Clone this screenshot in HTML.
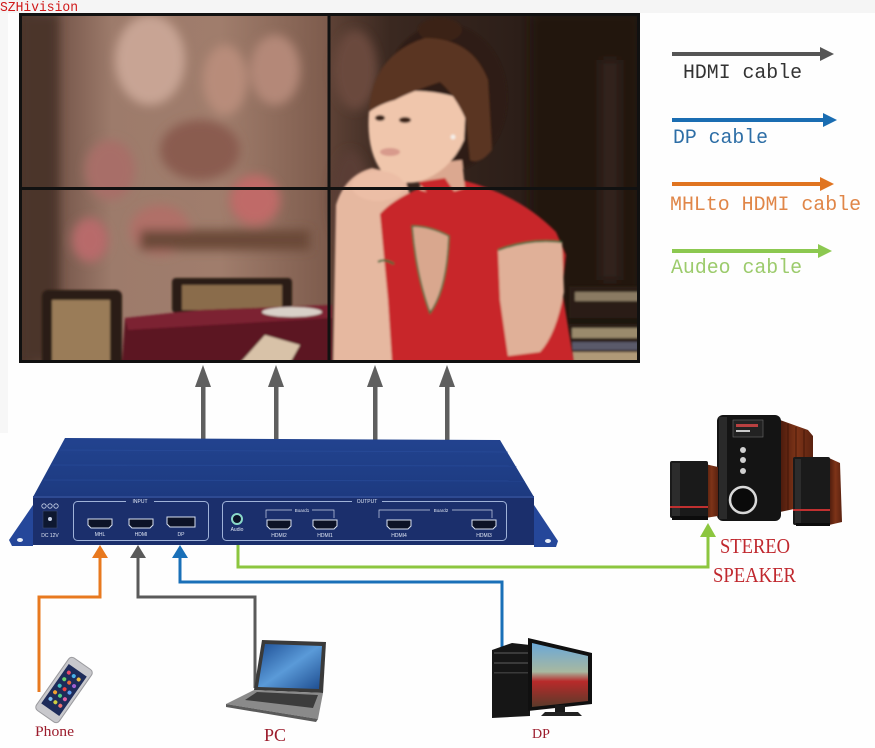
<!DOCTYPE html>
<html><head><meta charset="utf-8"><style>
html,body{margin:0;padding:0;background:#fff;}
svg{display:block}
</style></head><body>
<svg width="875" height="748" viewBox="0 0 875 748" xmlns="http://www.w3.org/2000/svg">
<defs>
 <filter id="b5" x="-20%" y="-20%" width="140%" height="140%"><feGaussianBlur stdDeviation="5"/></filter>
 <filter id="b3" x="-20%" y="-20%" width="140%" height="140%"><feGaussianBlur stdDeviation="3"/></filter>
 <filter id="b1"><feGaussianBlur stdDeviation="1"/></filter>
 <clipPath id="wall"><rect x="19" y="13" width="621" height="350"/></clipPath>
 <linearGradient id="leftbg" x1="0" x2="1" y1="0" y2="0">
  <stop offset="0" stop-color="#4a3129"/>
  <stop offset="0.08" stop-color="#6c4d42"/>
  <stop offset="0.3" stop-color="#9d7b6b"/>
  <stop offset="0.65" stop-color="#a07d6c"/>
  <stop offset="1" stop-color="#7d5b4c"/>
 </linearGradient>
 <linearGradient id="rightbg" x1="0" x2="1">
  <stop offset="0" stop-color="#5e4236"/>
  <stop offset="0.2" stop-color="#3a2820"/>
  <stop offset="1" stop-color="#1f1511"/>
 </linearGradient>
 <linearGradient id="topface" x1="0" x2="0" y1="0" y2="1">
  <stop offset="0" stop-color="#22438f"/>
  <stop offset="1" stop-color="#1d3a80"/>
 </linearGradient>
 <linearGradient id="wood" x1="0" x2="1">
  <stop offset="0" stop-color="#4a1a0c"/>
  <stop offset="0.5" stop-color="#7e3418"/>
  <stop offset="1" stop-color="#5a2210"/>
 </linearGradient>
 <linearGradient id="lscreen" x1="0" x2="1" y1="0" y2="1">
  <stop offset="0" stop-color="#1e4f95"/>
  <stop offset="0.5" stop-color="#5a9ad8"/>
  <stop offset="1" stop-color="#1d4c8f"/>
 </linearGradient>
 <linearGradient id="mscreen" x1="0" x2="0" y1="0" y2="1">
  <stop offset="0" stop-color="#6aa8d8"/>
  <stop offset="0.45" stop-color="#a8b8a0"/>
  <stop offset="0.6" stop-color="#b82a2a"/>
  <stop offset="1" stop-color="#5a3a2a"/>
 </linearGradient>
</defs>

<rect width="875" height="748" fill="#fefefe"/>
<rect x="0" y="0" width="875" height="13" fill="#f5f5f5"/>
<rect x="0" y="13" width="8" height="420" fill="#f7f7f7"/>
<text x="0" y="11" font-family="Liberation Mono, monospace" font-size="14" fill="#d01818" textLength="78" lengthAdjust="spacingAndGlyphs">SZHivision</text>

<!-- VIDEO WALL -->
<g clip-path="url(#wall)">
 <rect x="19" y="13" width="310" height="350" fill="url(#leftbg)"/>
 <rect x="329" y="13" width="311" height="350" fill="url(#rightbg)"/>
 <g filter="url(#b5)">
  <ellipse cx="150" cy="60" rx="35" ry="45" fill="#c8a494"/>
  <ellipse cx="225" cy="80" rx="22" ry="35" fill="#b88c7a"/>
  <ellipse cx="275" cy="70" rx="25" ry="35" fill="#b48878"/>
  <ellipse cx="200" cy="150" rx="40" ry="30" fill="#8a5c50"/>
  <ellipse cx="110" cy="170" rx="25" ry="30" fill="#a86e68"/>
  <ellipse cx="160" cy="230" rx="30" ry="25" fill="#b07068"/>
  <ellipse cx="255" cy="200" rx="25" ry="25" fill="#c06a68"/>
  <ellipse cx="90" cy="240" rx="18" ry="22" fill="#b86a6a"/>
  <rect x="19" y="13" width="40" height="350" fill="#4c342a"/>
  <rect x="140" y="230" width="170" height="20" fill="#6a4838"/>
  <ellipse cx="355" cy="70" rx="22" ry="40" fill="#6a4a3e"/>
  <ellipse cx="350" cy="200" rx="20" ry="50" fill="#5a3e34"/>
  <rect x="530" y="13" width="110" height="350" fill="#22170f"/>
  <rect x="600" y="60" width="20" height="220" fill="#32241c"/>
 </g>
 <!-- bottom-left chairs and table -->
 <g filter="url(#b1)">
  <rect x="42" y="290" width="80" height="80" rx="6" fill="#2a1a14"/>
  <rect x="52" y="300" width="58" height="65" fill="#9a7c58"/>
  <rect x="172" y="278" width="120" height="35" rx="4" fill="#2a1a14"/>
  <rect x="182" y="285" width="100" height="25" fill="#8a6c4c"/>
  <path d="M125 318 L200 310 L332 305 L332 363 L122 363 Z" fill="#5c1422"/>
  <path d="M125 318 L200 310 L332 305 L332 318 L128 330 Z" fill="#7c2232"/>
  <ellipse cx="292" cy="312" rx="30" ry="5" fill="#d8d0c8"/>
  <path d="M240 363 L265 335 L300 345 L290 363 Z" fill="#d8c2a8"/>
 </g>
 <!-- books bottom right -->
 <g filter="url(#b1)">
  <rect x="569" y="286" width="72" height="77" fill="#2a1e18"/>
  <rect x="575" y="292" width="66" height="9" fill="#8a7a62"/>
  <rect x="569" y="318" width="72" height="6" fill="#1a1410"/>
  <rect x="572" y="328" width="69" height="10" fill="#9a8a6c"/>
  <rect x="572" y="342" width="69" height="8" fill="#5a5a6a"/>
  <rect x="572" y="352" width="69" height="11" fill="#b09a78"/>
 </g>
 <!-- woman -->
 <g filter="url(#b1)">
  <ellipse cx="445" cy="98" rx="62" ry="74" fill="#2e1a12"/>
  <ellipse cx="440" cy="30" rx="22" ry="12" fill="#3a2418"/>
  <!-- arm under chin -->
  <path d="M336 205 Q345 175 372 168 L405 176 L410 196 L398 210 L396 363 L333 363 Z" fill="#e6b8a0"/>
  <!-- dress -->
  <path d="M380 214 Q392 200 420 188 L462 180 Q520 195 556 232 L566 255 L562 290 L574 363 L392 363 L388 300 Z" fill="#c8262c"/>
  <!-- right arm skin -->
  <path d="M498 250 Q530 238 562 242 L564 292 Q556 335 540 352 L508 356 L500 300 Z" fill="#e0b098"/>
  <path d="M498 250 Q530 238 562 242" fill="none" stroke="#2e6a3a" stroke-width="2"/>
  <path d="M378 262 Q384 258 394 264" fill="none" stroke="#2e6a3a" stroke-width="2"/>
  <!-- keyhole -->
  <path d="M412 226 Q416 275 430 313 Q447 290 449 236 Q430 226 412 226 Z" fill="#d9a78e" stroke="#2e6a3a" stroke-width="1.5"/>
  <!-- neck -->
  <path d="M420 165 L462 160 L465 188 L440 196 L420 190 Z" fill="#dba890"/>
  <path d="M418 182 L445 178 L460 200 L438 205 Z" fill="#c8262c"/>
  <!-- face -->
  <path d="M369 112 Q366 150 382 172 Q398 186 418 182 Q450 172 464 140 L466 100 Q430 88 400 92 Q375 96 369 112 Z" fill="#f0c6ac"/>
  <!-- bangs -->
  <path d="M369 112 Q372 55 425 38 Q472 38 488 80 L492 150 Q480 165 470 160 L466 120 Q455 95 440 82 Q410 92 395 100 Q380 104 369 112 Z" fill="#5a3422"/>
  <!-- hand -->
  <ellipse cx="378" cy="186" rx="26" ry="15" fill="#ecbea6"/>
  <circle cx="453" cy="137" r="2.5" fill="#f4eee8"/>
  <ellipse cx="390" cy="152" rx="10" ry="4" fill="#d89a8c"/>
  <ellipse cx="405" cy="120" rx="6" ry="3" fill="#3a2418"/>
  <ellipse cx="380" cy="118" rx="5" ry="3" fill="#3a2418"/>
 </g>
</g>
<rect x="20.5" y="14.5" width="618" height="347" fill="none" stroke="#111" stroke-width="3"/>
<line x1="329" y1="14" x2="329" y2="362" stroke="#111" stroke-width="3"/>
<line x1="20" y1="188.5" x2="639" y2="188.5" stroke="#111" stroke-width="3"/>

<!-- UP ARROWS -->
<g fill="#5f5f5f">
 <rect x="201" y="384" width="4.5" height="56"/><polygon points="195,387 203,365 211,387"/>
 <rect x="274" y="384" width="4.5" height="56"/><polygon points="268,387 276,365 284,387"/>
 <rect x="373" y="384" width="4.5" height="56"/><polygon points="367,387 375,365 383,387"/>
 <rect x="445" y="384" width="4.5" height="56"/><polygon points="439,387 447,365 455,387"/>
</g>

<!-- LEGEND -->
<g>
 <line x1="672" y1="54" x2="823" y2="54" stroke="#555" stroke-width="4"/>
 <polygon points="820,47 834,54 820,61" fill="#555"/>
 <text x="683" y="78" font-family="Liberation Mono, monospace" font-size="20" fill="#333" textLength="119" lengthAdjust="spacingAndGlyphs">HDMI cable</text>
 <line x1="672" y1="120" x2="826" y2="120" stroke="#1a6db2" stroke-width="4"/>
 <polygon points="823,113 837,120 823,127" fill="#1a6db2"/>
 <text x="673" y="143" font-family="Liberation Mono, monospace" font-size="20" fill="#2d6ea6" textLength="95" lengthAdjust="spacingAndGlyphs">DP cable</text>
 <line x1="672" y1="184" x2="823" y2="184" stroke="#e07420" stroke-width="4"/>
 <polygon points="820,177 834,184 820,191" fill="#e07420"/>
 <text x="670" y="210" font-family="Liberation Mono, monospace" font-size="20" fill="#e08648" textLength="191" lengthAdjust="spacingAndGlyphs">MHLto HDMI cable</text>
 <line x1="672" y1="251" x2="821" y2="251" stroke="#8cc850" stroke-width="4"/>
 <polygon points="818,244 832,251 818,258" fill="#8cc850"/>
 <text x="671" y="273" font-family="Liberation Mono, monospace" font-size="20" fill="#9ccb6c" textLength="131" lengthAdjust="spacingAndGlyphs">Audeo cable</text>
</g>

<!-- DEVICE -->
<g>
 <polygon points="33,505 33,546 12,546 9,540" fill="#25479a"/>
 <ellipse cx="20" cy="540" rx="3" ry="2" fill="#e8eef8"/>
 <polygon points="534,505 534,547 556,547 558,541" fill="#25479a"/>
 <ellipse cx="548" cy="541" rx="3" ry="2" fill="#e8eef8"/>
 <polygon points="65,438 500,440 534,497 33,497" fill="url(#topface)"/>
 <g stroke="#2c50a0" stroke-width="0.8" opacity="0.6">
  <line x1="60" y1="450" x2="508" y2="452"/>
  <line x1="52" y1="465" x2="517" y2="466"/>
  <line x1="44" y1="480" x2="525" y2="481"/>
 </g>
 <rect x="33" y="496" width="501" height="49" fill="#1b2f6c"/>
 <line x1="33" y1="497" x2="534" y2="497" stroke="#3a5aa8" stroke-width="1.2"/>
 <!-- DC -->
 <g fill="none" stroke="#c8d2e8" stroke-width="0.8">
  <circle cx="44" cy="506" r="2.2"/><circle cx="50" cy="506" r="2.2"/><circle cx="56" cy="506" r="2.2"/>
 </g>
 <rect x="43" y="511" width="14" height="17" fill="#0e1830" stroke="#3a4a70" stroke-width="0.6"/>
 <circle cx="50" cy="519" r="2" fill="#c8d2e8"/>
 <text x="50" y="537" font-family="Liberation Sans, sans-serif" font-size="5" fill="#dfe6f4" text-anchor="middle">DC 12V</text>
 <!-- INPUT box -->
 <rect x="73.5" y="501.5" width="135" height="39" rx="4" fill="none" stroke="#9fb2d8" stroke-width="1"/>
 <rect x="126" y="498" width="28" height="6" fill="#1b2f6c"/>
 <text x="140" y="503" font-family="Liberation Sans, sans-serif" font-size="5" fill="#dfe6f4" text-anchor="middle">INPUT</text>
 <!-- OUTPUT box -->
 <rect x="222.5" y="501.5" width="284" height="39" rx="4" fill="none" stroke="#9fb2d8" stroke-width="1"/>
 <rect x="352" y="498" width="30" height="6" fill="#1b2f6c"/>
 <text x="367" y="503" font-family="Liberation Sans, sans-serif" font-size="5" fill="#dfe6f4" text-anchor="middle">OUTPUT</text>
 <g fill="none" stroke="#c8d2e8" stroke-width="0.7">
  <polyline points="266,518 266,510 334,510 334,518"/>
  <polyline points="379,518 379,510 492,510 492,518"/>
 </g>
 <rect x="292" y="507" width="20" height="6" fill="#1b2f6c"/>
 <text x="302" y="512" font-family="Liberation Sans, sans-serif" font-size="4.5" fill="#dfe6f4" text-anchor="middle">Board1</text>
 <rect x="430" y="507" width="22" height="6" fill="#1b2f6c"/>
 <text x="441" y="512" font-family="Liberation Sans, sans-serif" font-size="4.5" fill="#dfe6f4" text-anchor="middle">Board2</text>
 <!-- ports -->
 <g fill="#0c1226" stroke="#d8e0f0" stroke-width="1">
  <path d="M88 519 h24 v6 l-3 3 h-18 l-3 -3 z"/>
  <path d="M129 519 h24 v6 l-3 3 h-18 l-3 -3 z"/>
  <path d="M167 517 h28 v10 h-25 l-3 -3 z"/>
  <path d="M267 520 h24 v6 l-3 3 h-18 l-3 -3 z"/>
  <path d="M313 520 h24 v6 l-3 3 h-18 l-3 -3 z"/>
  <path d="M387 520 h24 v6 l-3 3 h-18 l-3 -3 z"/>
  <path d="M472 520 h24 v6 l-3 3 h-18 l-3 -3 z"/>
 </g>
 <circle cx="237" cy="519" r="5" fill="#0c1226" stroke="#8ad8c8" stroke-width="2"/>
 <g font-family="Liberation Sans, sans-serif" font-size="5" fill="#dfe6f4" text-anchor="middle">
  <text x="100" y="536">MHL</text>
  <text x="141" y="536">HDMI</text>
  <text x="181" y="536">DP</text>
  <text x="237" y="531">Audio</text>
  <text x="279" y="537">HDMI2</text>
  <text x="325" y="537">HDMI1</text>
  <text x="399" y="537">HDMI4</text>
  <text x="484" y="537">HDMI3</text>
 </g>
</g>

<!-- CABLES -->
<g fill="none" stroke-width="3" stroke-linejoin="miter">
 <path d="M39 692 V597 H100 V556" stroke="#e8791f"/>
 <path d="M255 688 V597 H138 V556" stroke="#5a5a5a"/>
 <path d="M502 650 V582 H180 V556" stroke="#1a70b8"/>
 <path d="M238 545 V567 H708 V536" stroke="#8cc63f"/>
</g>
<polygon points="92,558 100,545 108,558" fill="#e8791f"/>
<polygon points="130,558 138,545 146,558" fill="#5a5a5a"/>
<polygon points="172,558 180,545 188,558" fill="#1a70b8"/>
<polygon points="700,537 708,523 716,537" fill="#8cc63f"/>

<!-- SPEAKERS -->
<g>
 <path d="M780 420 L808 430 L813 436 L813 505 L780 512 Z" fill="url(#wood)"/>
 <g stroke="#3a1206" stroke-width="0.8"><line x1="788" y1="424" x2="788" y2="510"/><line x1="796" y1="427" x2="796" y2="508"/><line x1="804" y1="430" x2="804" y2="506"/></g>
 <rect x="717" y="415" width="64" height="106" rx="6" fill="#141414"/>
 <rect x="719" y="417" width="8" height="102" fill="#2a2a2a"/>
 <rect x="733" y="420" width="30" height="17" fill="#222" stroke="#6a6a6a" stroke-width="0.6"/>
 <rect x="736" y="424" width="22" height="3" fill="#b84040"/>
 <rect x="736" y="430" width="14" height="2" fill="#c8c8c8"/>
 <circle cx="743" cy="450" r="3" fill="#d0d0d0"/>
 <circle cx="743" cy="460" r="3" fill="#d0d0d0"/>
 <circle cx="743" cy="471" r="3" fill="#d0d0d0"/>
 <circle cx="743" cy="500" r="13" fill="#0a0a0a" stroke="#d8d8d8" stroke-width="2.5"/>
 <path d="M705 464 L718 467 L718 516 L705 518 Z" fill="url(#wood)"/>
 <rect x="670" y="461" width="38" height="57" rx="2" fill="#1a1a1a"/>
 <rect x="672" y="463" width="8" height="53" fill="#2c2c2c"/>
 <rect x="670" y="506" width="38" height="2" fill="#c03030"/>
 <rect x="672" y="516" width="36" height="4" fill="#0c0c0c"/>
 <path d="M829 458 L840 463 L842 522 L829 525 Z" fill="url(#wood)"/>
 <rect x="793" y="457" width="37" height="68" rx="2" fill="#1a1a1a"/>
 <rect x="795" y="459" width="6" height="64" fill="#2c2c2c"/>
 <rect x="793" y="509" width="37" height="2" fill="#c03030"/>
 <rect x="796" y="523" width="34" height="3" fill="#0c0c0c"/>
</g>
<text x="720" y="553" font-family="Liberation Serif, serif" font-size="21" fill="#c0282e" textLength="70" lengthAdjust="spacingAndGlyphs">STEREO</text>
<text x="713" y="582" font-family="Liberation Serif, serif" font-size="21" fill="#c0282e" textLength="83" lengthAdjust="spacingAndGlyphs">SPEAKER</text>

<!-- DP COMPUTER -->
<g>
 <path d="M492 650 L512 643 L530 645 L530 716 L492 718 Z" fill="#161616"/>
 <rect x="494" y="652" width="34" height="2" fill="#3a3a3a"/>
 <rect x="494" y="662" width="34" height="2" fill="#3a3a3a"/>
 <rect x="494" y="672" width="34" height="1.5" fill="#3a3a3a"/>
 <path d="M528 638 L592 653 L592 704 L528 711 Z" fill="#101010"/>
 <path d="M532 643 L588 656 L588 701 L532 707 Z" fill="url(#mscreen)"/>
 <rect x="555" y="705" width="10" height="9" fill="#1a1a1a"/>
 <path d="M545 712 L578 712 L582 716 L541 716 Z" fill="#222"/>
</g>
<text x="541" y="738" font-family="Liberation Serif, serif" font-size="14" fill="#9c1c2c" text-anchor="middle">DP</text>

<!-- LAPTOP -->
<g>
 <path d="M262 640 L326 642 L323 693 L254 690 Z" fill="#3a3a3a"/>
 <path d="M265 644 L322 646 L319 689 L258 687 Z" fill="url(#lscreen)"/>
 <path d="M254 690 L323 693 L318 719 L226 704 Z" fill="#8a8a8a"/>
 <path d="M257 692 L318 695 L313 708 L245 700 Z" fill="#3c3c3c"/>
 <path d="M226 704 L318 719 L316 722 L226 707 Z" fill="#5a5a5a"/>
</g>
<text x="275" y="741" font-family="Liberation Serif, serif" font-size="18" fill="#9c1c2c" text-anchor="middle">PC</text>

<!-- PHONE -->
<g transform="translate(64 690) rotate(35)">
 <rect x="-14" y="-32" width="28" height="64" rx="4" fill="#c8c8cc" stroke="#9a9a9e" stroke-width="1"/>
 <rect x="-11" y="-24" width="22" height="48" fill="#1e2c5a"/>
 <g>
  <circle cx="-6" cy="-17" r="2" fill="#e84a6a"/><circle cx="0" cy="-17" r="2" fill="#4ab0e8"/><circle cx="6" cy="-17" r="2" fill="#f0c040"/>
  <circle cx="-6" cy="-9" r="2" fill="#6ad06a"/><circle cx="0" cy="-9" r="2" fill="#e86a3a"/><circle cx="6" cy="-9" r="2" fill="#a060d0"/>
  <circle cx="-6" cy="-1" r="2" fill="#40c0c0"/><circle cx="0" cy="-1" r="2" fill="#f04040"/><circle cx="6" cy="-1" r="2" fill="#60a0f0"/>
  <circle cx="-6" cy="7" r="2" fill="#f0a030"/><circle cx="0" cy="7" r="2" fill="#50d080"/><circle cx="6" cy="7" r="2" fill="#e060a0"/>
  <circle cx="-6" cy="15" r="2" fill="#80c0f0"/><circle cx="0" cy="15" r="2" fill="#d0d040"/><circle cx="6" cy="15" r="2" fill="#f07070"/>
 </g>
</g>
<text x="35" y="736" font-family="Liberation Serif, serif" font-size="15" fill="#9c1c2c" textLength="39" lengthAdjust="spacingAndGlyphs">Phone</text>
</svg>
</body></html>
